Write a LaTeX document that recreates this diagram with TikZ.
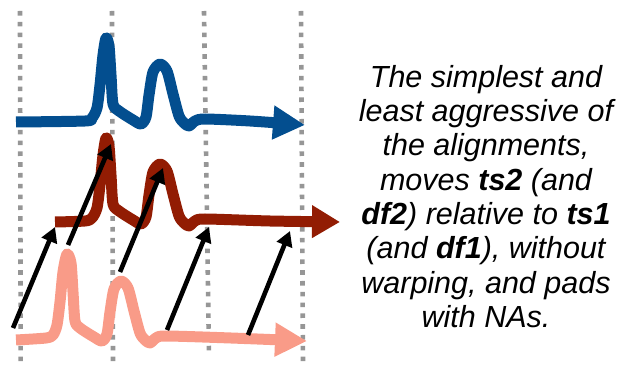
\documentclass[tikz,border=0pt]{standalone}
\usepackage{fontspec}
\setmainfont{Liberation Sans}
\usetikzlibrary{arrows.meta}
\definecolor{tsblue}{RGB}{3,78,143}
\definecolor{tsred}{RGB}{146,28,3}
\definecolor{tssalmon}{RGB}{249,155,136}
\definecolor{dotgray}{RGB}{150,150,150}
\tikzset{
  gridline/.style={draw=dotgray,line width=4.6pt,dash pattern=on 4.6pt off 6.2pt},
  series/.style={line width=11pt,line join=round,-{Triangle[length=32pt,width=32pt]}},
  shiftarrow/.style={draw=black,line width=4.6pt,-{Triangle[length=15pt,width=16pt]}},
}
\begin{document}
\begin{tikzpicture}[x=1pt,y=-1pt]
\useasboundingbox (0,0) rectangle (624,366);
% dotted grid lines
\draw[gridline] (20,11) -- (20.7,366);
\draw[gridline] (112,11) -- (113,362);
\draw[gridline] (204,11) -- (209,356);
\draw[gridline] (301,11) -- (303,366);
% ts1 (blue)
\draw[series,tsblue] plot[smooth,tension=0.45] coordinates {
 (16,122) (85,121) (92,118) (97,108) (100,85) (103,55) (106,38) (109,46) (111,75) (113,104)
 (119,111) (133,120) (141,124) (146,117) (149,95) (153,72) (160,64) (167,71) (173,94) (179,116)
 (184,123) (189,126) (195,121) (205,119) (250,121) (305,125)};
% df2 aligned (dark red)
\begin{scope}[yshift=-100pt]
\draw[series,tsred,-{Triangle[length=28pt,width=31pt]}] plot[smooth,tension=0.45] coordinates {
 (55,122) (85,121) (92,118) (97,108) (100,85) (103,55) (106,38) (109,46) (111,75) (113,104)
 (119,111) (133,120) (141,124) (146,117) (149,95) (153,72) (160,64) (167,71) (173,94) (179,116)
 (184,123) (189,126) (195,121) (205,119) (270,121) (340,122)};
\end{scope}
% ts2 original (salmon)
\begin{scope}[xshift=-39pt,yshift=-217pt]
\draw[series,tssalmon] plot[smooth,tension=0.45] coordinates {
 (55,123) (85,121) (92,118) (96,108) (99,85) (102,55) (106,37) (110,46) (112,75) (114,104)
 (119,111) (133,120) (141,124) (146,117) (149,95) (153,72) (160,64) (167,71) (173,94) (179,116)
 (184,123) (189,126) (195,121) (205,119) (270,121) (346,124)};
\end{scope}
% shift arrows
\coordinate (a1s) at (13,328); \coordinate (a1e) at (55,227);
\coordinate (a2s) at (68,245); \coordinate (a2e) at (111,144);
\coordinate (a3s) at (120,272); \coordinate (a3e) at (163,168);
\coordinate (a4s) at (167,330); \coordinate (a4e) at (209,227);
\coordinate (a5s) at (248,335); \coordinate (a5e) at (290,231);
\draw[shiftarrow] (a1s) -- (a1e);
\draw[shiftarrow] (a2s) -- (a2e);
\draw[shiftarrow] (a3s) -- (a3e);
\draw[shiftarrow] (a4s) -- (a4e);
\draw[shiftarrow] (a5s) -- (a5e);
% text
\node[font=\fontsize{30.5}{34.3}\selectfont\itshape,align=center,anchor=north,inner sep=0pt] (txt) at (486,65)
 {The simplest and\\least aggressive of\\the alignments,\\moves \textbf{ts2} (and\\\textbf{df2}) relative to \textbf{ts1}\\(and \textbf{df1}), without\\warping, and pads\\with NAs.};
\end{tikzpicture}
\end{document}
